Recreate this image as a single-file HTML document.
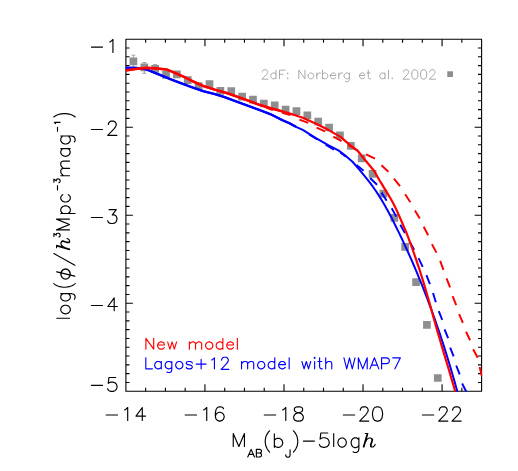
<!DOCTYPE html>
<html><head><meta charset="utf-8"><title>Luminosity function</title>
<style>html,body{margin:0;padding:0;background:#fff;font-family:"Liberation Sans",sans-serif}svg{display:block}</style>
</head><body>
<svg width="518" height="471" viewBox="0 0 518 471" role="img" aria-label="Luminosity function: log(phi / h^3 Mpc^-3 mag^-1) versus M_AB(b_J) - 5 log h. New model (red), Lagos+12 model with WMAP7 (blue), 2dF: Norberg et al. 2002 (grey squares)">
<title>b_J-band luminosity function: New model vs Lagos+12 model with WMAP7, data 2dF: Norberg et al. 2002</title>
<rect width="518" height="471" fill="#fff"/>
<defs><clipPath id="c"><rect x="125.9" y="39.2" width="356.3" height="352.35"/></clipPath></defs>
<path d="M133.4 55.2V67.6M131.4 55.2h4M131.4 67.6h4M144.27 62.5V73.3M142.27 62.5h4M142.27 73.3h4M155.14 64.6V72.6M153.14 64.6h4M153.14 72.6h4" fill="none" stroke="#8e8e8e" stroke-width="0.8"/>
<path d="M129.55 57.55h7.7v7.7h-7.7zM140.42 63.45h7.7v7.7h-7.7zM151.29 65.05h7.7v7.7h-7.7zM162.16 70.95h7.7v7.7h-7.7zM173.03 70.45h7.7v7.7h-7.7zM183.91 76.25h7.7v7.7h-7.7zM194.78 82.15h7.7v7.7h-7.7zM205.65 80.25h7.7v7.7h-7.7zM216.52 87.05h7.7v7.7h-7.7zM227.39 87.35h7.7v7.7h-7.7zM238.26 92.85h7.7v7.7h-7.7zM249.13 95.75h7.7v7.7h-7.7zM260 99.65h7.7v7.7h-7.7zM270.87 101.55h7.7v7.7h-7.7zM281.74 105.85h7.7v7.7h-7.7zM292.62 107.35h7.7v7.7h-7.7zM303.49 111.55h7.7v7.7h-7.7zM314.36 117.85h7.7v7.7h-7.7zM325.23 123.65h7.7v7.7h-7.7zM336.1 131.55h7.7v7.7h-7.7zM346.97 141.95h7.7v7.7h-7.7zM357.84 154.45h7.7v7.7h-7.7zM368.71 169.95h7.7v7.7h-7.7zM379.58 189.75h7.7v7.7h-7.7zM390.45 214.05h7.7v7.7h-7.7zM401.33 243.05h7.7v7.7h-7.7zM412.2 278.25h7.7v7.7h-7.7zM423.07 321.05h7.7v7.7h-7.7zM433.94 374.15h7.7v7.7h-7.7z" fill="#8e8e8e"/>
<rect x="447.3" y="71.3" width="5.7" height="5.7" fill="#8e8e8e"/>
<path d="M145.66 391.25v-3.6M145.66 39.2v3.6M165.42 391.25v-3.6M165.42 39.2v3.6M185.18 391.25v-3.6M185.18 39.2v3.6M204.94 391.25v-7.0M204.94 39.2v7.0M224.71 391.25v-3.6M224.71 39.2v3.6M244.47 391.25v-3.6M244.47 39.2v3.6M264.23 391.25v-3.6M264.23 39.2v3.6M283.99 391.25v-7.0M283.99 39.2v7.0M303.75 391.25v-3.6M303.75 39.2v3.6M323.51 391.25v-3.6M323.51 39.2v3.6M343.27 391.25v-3.6M343.27 39.2v3.6M363.03 391.25v-7.0M363.03 39.2v7.0M382.79 391.25v-3.6M382.79 39.2v3.6M402.56 391.25v-3.6M402.56 39.2v3.6M422.32 391.25v-3.6M422.32 39.2v3.6M442.08 391.25v-7.0M442.08 39.2v7.0M461.84 391.25v-3.6M461.84 39.2v3.6M125.9 48h3.6M481.6 48h-3.6M125.9 56.8h3.6M481.6 56.8h-3.6M125.9 65.6h3.6M481.6 65.6h-3.6M125.9 74.41h3.6M481.6 74.41h-3.6M125.9 83.21h3.6M481.6 83.21h-3.6M125.9 92.01h3.6M481.6 92.01h-3.6M125.9 100.81h3.6M481.6 100.81h-3.6M125.9 109.61h3.6M481.6 109.61h-3.6M125.9 118.41h3.6M481.6 118.41h-3.6M125.9 127.21h7.0M481.6 127.21h-7.0M125.9 136.01h3.6M481.6 136.01h-3.6M125.9 144.82h3.6M481.6 144.82h-3.6M125.9 153.62h3.6M481.6 153.62h-3.6M125.9 162.42h3.6M481.6 162.42h-3.6M125.9 171.22h3.6M481.6 171.22h-3.6M125.9 180.02h3.6M481.6 180.02h-3.6M125.9 188.82h3.6M481.6 188.82h-3.6M125.9 197.62h3.6M481.6 197.62h-3.6M125.9 206.42h3.6M481.6 206.42h-3.6M125.9 215.23h7.0M481.6 215.23h-7.0M125.9 224.03h3.6M481.6 224.03h-3.6M125.9 232.83h3.6M481.6 232.83h-3.6M125.9 241.63h3.6M481.6 241.63h-3.6M125.9 250.43h3.6M481.6 250.43h-3.6M125.9 259.23h3.6M481.6 259.23h-3.6M125.9 268.03h3.6M481.6 268.03h-3.6M125.9 276.83h3.6M481.6 276.83h-3.6M125.9 285.64h3.6M481.6 285.64h-3.6M125.9 294.44h3.6M481.6 294.44h-3.6M125.9 303.24h7.0M481.6 303.24h-7.0M125.9 312.04h3.6M481.6 312.04h-3.6M125.9 320.84h3.6M481.6 320.84h-3.6M125.9 329.64h3.6M481.6 329.64h-3.6M125.9 338.44h3.6M481.6 338.44h-3.6M125.9 347.24h3.6M481.6 347.24h-3.6M125.9 356.05h3.6M481.6 356.05h-3.6M125.9 364.85h3.6M481.6 364.85h-3.6M125.9 373.65h3.6M481.6 373.65h-3.6M125.9 382.45h3.6M481.6 382.45h-3.6" fill="none" stroke="#000" stroke-width="1.1"/>
<rect x="125.9" y="39.2" width="355.7" height="352.05" fill="none" stroke="#000" stroke-width="1.1" stroke-linejoin="round"/>
<g clip-path="url(#c)" fill="none" stroke-linejoin="round">
<path d="M124 67.85L125.7 67.85L135.6 67.85L141.4 68.4L147.2 69.6L153 72.1L158.75 74.45L170.3 79.1L180 82.8L191.6 87.1L203.2 91.2L214.75 94.05L224 96.95L236 101.35L247.6 105.6L259.2 109.9L270.75 114.3L282.3 120.1L290 123.5L296 126.8L302.75 129.85L315.5 137.85L328.2 145.1L338.4 150.4L345 155.3L352.75 162L359.1 169.4L365.5 177.05L366.09 177.77L369.5 182.11L372.7 186.45L375.73 190.79L378.59 195.12L381.3 199.46L383.88 203.8L386.35 208.14L388.72 212.47L391.01 216.81L393.23 221.15L395.41 225.48L397.55 229.82L399.65 234.16L401.72 238.5L403.76 242.83L405.76 247.17L407.73 251.51L409.67 255.85L411.58 260.18L413.46 264.52L415.31 268.86L417.13 273.2L418.92 277.53L420.69 281.87L422.43 286.21L424.14 290.55L425.82 294.88L427.48 299.22L429.12 303.56L430.72 307.9L432.31 312.23L433.86 316.57L435.4 320.91L436.91 325.25L438.39 329.58L439.86 333.92L441.3 338.26L442.72 342.6L444.12 346.93L445.49 351.27L446.85 355.61L448.18 359.95L449.5 364.28L450.79 368.62L452.07 372.96L453.33 377.3L454.57 381.63L455.79 385.97L456.99 390.31L457.78 393.2" stroke="#0000ff" stroke-width="2.0"/>
<path d="M124 67.85L125.7 67.85L135.6 67.85L141.4 68.4L147.2 69.6L153 72.1L158.75 74.45L170.3 79.1L180 82.8L191.6 87.1L203.2 91.2L214.75 94.05L224 96.95L236 101.35L247.6 105.6L259.2 109.9L270.75 114.3L282.3 120.1L290 123.5L296 126.8" stroke="#0000ff" stroke-width="2.35"/>
<path d="M309.1 134.4L317.4 139.5M325.7 144.6L333.95 149.6M340.5 152.7L346 156.6M356.55 164.95L363.55 170.65M370.1 177.97L377.08 184.73M381.51 192.63L386.67 200.67M391.7 208.17L396.29 216.63M400.26 224.71L404.9 233.09M409.59 241.44L414.19 249.86M418.52 258.19L422.72 266.81M426.42 275.11L429.96 284.04M433.03 293.01L435.84 302.19M438.75 311.05L442.24 319.9M444.56 329.37L448.13 338.13M450.16 347.54L453.64 356.36M456.18 365.49L459.69 374.36M462.14 383.46L466.69 392.54" stroke="#0000ff" stroke-width="1.95"/>
<path d="M124 70.8L125.7 70.5L135.6 69L147.2 67.85L158.75 68.65L166.9 69.6L172.65 71.9L178.4 74.45L184 76.8L191.6 80.75L203.2 85.95L214.75 89.65L226.3 92.9L237 96.6L247.6 100.4L259.2 104.8L270.75 108.3L282.3 111.4L290 113.65L296 115.5L302.75 117.75L315.5 123.5L328.2 129.85L340.5 136.9L348.9 144.2L357.2 150.3L365.5 160.5L374.4 171.3L374.8 172.04L377.3 176.49L379.92 180.95L382.61 185.4L385.35 189.85L388.08 194.31L390.73 198.76L393.2 203.21L395.45 207.66L397.53 212.12L399.49 216.57L401.4 221.02L403.32 225.48L405.23 229.93L407.06 234.38L408.77 238.83L410.39 243.29L411.98 247.74L413.56 252.19L415.12 256.65L416.65 261.1L418.15 265.55L419.62 270L421.04 274.46L422.43 278.91L423.79 283.36L425.12 287.82L426.42 292.27L427.7 296.72L428.97 301.17L430.22 305.63L431.47 310.08L432.71 314.53L433.96 318.99L435.21 323.44L436.47 327.89L437.74 332.34L439.04 336.8L440.35 341.25L441.67 345.7L442.99 350.16L444.33 354.61L445.67 359.06L447 363.51L448.34 367.97L449.66 372.42L450.98 376.87L452.29 381.33L453.58 385.78L454.85 390.23L455.69 393.2" stroke="#ff0000" stroke-width="2.2"/>
<path d="M124 70.8L125.7 70.5L135.6 69L147.2 67.85L158.75 68.65L166.9 69.6L172.65 71.9L178.4 74.45L184 76.8L191.6 80.75L203.2 85.95L214.75 89.65L226.3 92.9L237 96.6L247.6 100.4L259.2 104.8L270.75 108.3L282.3 111.4" stroke="#ff0000" stroke-width="2.5"/>
<path d="M266 107.5L273 110M282.3 112.7L290.4 115.1M299.4 119.6L308.3 122.8M316.6 127.7L325.05 131.3M333.3 136.6L341.6 141.05M348.5 145.2L357.2 150.4M366.1 154.4L375 158.6M381.4 165.3L388.4 171.7M393.91 178.74L400.03 186.21M405.13 194.31L410.4 202.24M414.93 210.43L419.77 218.62M423.71 226.76L428.13 235.19M431.94 244.21L436.44 252.59M440.15 260.89L443.46 269.91M446.55 278.46L450.06 287.34M452.62 296.19L456.21 305.01M459.13 314.03L462.87 322.77M466.02 331.71L470.09 340.29M473.13 349.29L477.74 357.81M479.6 367L481.9 376.3" stroke="#ff0000" stroke-width="1.95"/>
</g>
<path d="M106.2 414.95H117.55M124.55 409.96L125.81 409.34L127.7 407.49L127.7 420.45M142.29 420.45L142.29 416.13L142.29 407.49L135.99 416.13L142.29 416.13L145.44 416.13M185.24 414.95H196.59M203.59 409.96L204.85 409.34L206.74 407.49L206.74 420.45M223.52 408.86L222.84 407.5L220.8 406.82L219.44 406.82L217.4 407.5L216.04 409.54L215.36 412.94L215.36 416.34L216.04 419.06L217.4 420.42L219.44 421.1L220.12 421.1L222.16 420.42L223.52 419.06L224.2 417.02L224.2 416.34L223.52 414.3L222.16 412.94L220.12 412.26L219.44 412.26L217.4 412.94L216.04 414.3L215.36 416.34M264.29 414.95H275.64M282.64 409.96L283.9 409.34L285.79 407.49L285.79 420.45M293.73 416.34L293.73 418.38L294.41 419.74L295.09 420.42L297.13 421.1L299.85 421.1L301.89 420.42L302.57 419.74L303.25 418.38L303.25 416.34L302.57 414.98L301.21 413.62L299.17 412.94L296.45 412.26L295.09 411.58L294.41 410.22L294.41 408.86L295.09 407.5L297.13 406.82L299.85 406.82L301.89 407.5L302.57 408.86L302.57 410.22L301.89 411.58L300.53 412.26L297.81 412.94L295.77 413.62L294.41 414.98L293.73 416.34M343.33 414.95H354.68M360.28 410.22L360.28 409.54L360.93 408.18L361.59 407.5L362.9 406.82L365.51 406.82L366.82 407.5L367.47 408.18L368.13 409.54L368.13 410.9L367.47 412.26L366.17 414.3L359.63 421.1L368.78 421.1M372.49 412.94L372.49 414.98L373.21 418.38L374.65 420.42L376.81 421.1L378.25 421.1L380.41 420.42L381.85 418.38L382.57 414.98L382.57 412.94L381.85 409.54L380.41 407.5L378.25 406.82L376.81 406.82L374.65 407.5L373.21 409.54L372.49 412.94M422.38 414.95H433.73M439.32 410.22L439.32 409.54L439.98 408.18L440.63 407.5L441.94 406.82L444.56 406.82L445.86 407.5L446.52 408.18L447.17 409.54L447.17 410.9L446.52 412.26L445.21 414.3L438.67 421.1L447.83 421.1M452.65 410.22L452.65 409.54L453.31 408.18L453.96 407.5L455.27 406.82L457.89 406.82L459.19 407.5L459.85 408.18L460.5 409.54L460.5 410.9L459.85 412.26L458.54 414.3L452 421.1L461.16 421.1M91.4 47.1H102.55M109.78 41.91L111.04 41.29L112.93 39.44L112.93 52.4M91.4 129.46H102.55M108.38 124.53L108.38 123.85L109.03 122.49L109.68 121.81L110.99 121.13L113.61 121.13L114.92 121.81L115.57 122.49L116.22 123.85L116.22 125.21L115.57 126.57L114.26 128.61L107.72 135.41L116.88 135.41M91.4 217.48H102.55M107.68 220.88L108.34 222.2L109 222.86L110.98 223.53L112.96 223.53L114.94 222.86L116.26 221.54L116.92 219.55L116.92 218.23L116.26 216.24L115.6 215.58L114.28 214.92L112.3 214.92L116.26 209.62L109 209.62M91.4 305.49H102.55M114.19 310.79L114.19 306.47L114.19 297.83L107.89 306.47L114.19 306.47L117.34 306.47M91.4 385.3H102.55M107.58 388.7L108.25 390.03L108.92 390.69L110.95 391.35L112.97 391.35L115 390.69L116.35 389.36L117.03 387.38L117.03 386.05L116.35 384.07L115 382.74L112.97 382.08L110.95 382.08L108.92 382.74L108.25 383.41L108.92 377.45L115.67 377.45" fill="none" stroke="#000" stroke-width="1.15" stroke-linecap="round" stroke-linejoin="round"/>
<path d="M233.25 446.4L233.25 433.48L238.85 446.4L244.45 433.48L244.45 446.4M247.75 456.95L251.11 449.39L254.47 456.95M249.01 454.43L253.21 454.43M256.35 452.99L256.35 456.95L259.63 456.95L260.73 456.59L261.1 456.23L261.46 455.51L261.46 454.43L261.1 453.71L260.73 453.35L259.63 452.99L256.35 452.99L256.35 449.39L259.63 449.39L260.73 449.75L261.1 450.11L261.46 450.83L261.46 451.55L261.1 452.27L260.73 452.63L259.63 452.99M269.59 430.77L268.35 432.1L267.11 434.1L265.87 436.76L265.25 440.08L265.25 442.75L265.87 446.07L267.11 448.73L268.35 450.72L269.59 452.05M274.35 433.86L274.35 440.26L274.35 445.38L274.35 447.3M274.35 440.26L275.74 438.98L277.13 438.34L279.22 438.34L280.61 438.98L282 440.26L282.69 442.18L282.69 443.46L282 445.38L280.61 446.66L279.22 447.3L277.13 447.3L275.74 446.66L274.35 445.38M285.75 454.75L285.75 455.46L286.18 456.54L286.61 456.89L287.47 457.25L288.33 457.25L289.19 456.89L289.62 456.54L290.05 455.46L290.05 449.75M293.4 430.77L294.64 432.1L295.88 434.1L297.12 436.76L297.74 440.08L297.74 442.75L297.12 446.07L295.88 448.73L294.64 450.72L293.4 452.05M303.4 441.05H314.4M319.4 444.58L320.1 445.94L320.8 446.62L322.9 447.3L325 447.3L327.1 446.62L328.5 445.26L329.2 443.22L329.2 441.86L328.5 439.82L327.1 438.46L325 437.78L322.9 437.78L320.8 438.46L320.1 439.14L320.8 433.02L327.8 433.02M333.7 433.48L333.7 446.5M337.9 441.87L338.54 439.93L339.83 438.64L341.12 437.99L343.06 437.99L344.35 438.64L345.64 439.93L346.28 441.87L346.28 443.17L345.64 445.11L344.35 446.4L343.06 447.05L341.12 447.05L339.83 446.4L338.54 445.11L337.9 443.17L337.9 441.87M353.08 451.8L354.38 452.5L356.31 452.5L357.6 451.8L358.25 451.1L358.89 449L358.89 445.5L358.89 439.9L358.89 437.8M358.89 439.9L357.6 438.5L356.31 437.8L354.38 437.8L353.08 438.5L351.79 439.9L351.15 442L351.15 443.4L351.79 445.5L353.08 446.9L354.38 447.6L356.31 447.6L357.6 446.9L358.89 445.5" fill="none" stroke="#000" stroke-width="1.15" stroke-linecap="round" stroke-linejoin="round"/>
<path d="M363.3 447L367.26 433.45L367.92 433.45L365.28 442.49L363.96 447M365.28 433.45L367.26 433.45M365.28 442.49L366.6 439.9L367.92 438.62L369.24 437.97L370.56 437.97L371.88 438.62L372.54 439.26L372.54 440.55L371.22 444.42L371.22 446.36L371.88 447L373.2 447L374.52 445.71L375.18 444.42M370.56 437.97L371.88 439.26L371.88 440.55L370.56 444.42L370.56 446.36L371.22 447L371.88 447" fill="none" stroke="#000" stroke-width="1.1" stroke-linecap="round" stroke-linejoin="round"/>
<path d="M145.9 349.15L145.9 338.33L153.71 349.15L153.71 338.33M164.3 347.6L163.19 348.63L162.07 349.15L160.4 349.15L159.28 348.63L158.17 347.6L157.61 346.06L157.61 345.03L158.17 343.48L159.28 342.45L160.4 341.94L162.07 341.94L163.19 342.45L163.74 342.97L164.3 344L164.3 345.03L157.61 345.03M167.65 341.94L169.88 349.15L172.11 341.94L174.34 349.15L176.57 341.94M189.39 341.94L189.39 344L189.39 349.15M189.39 344L191.07 342.45L192.18 341.94L193.85 341.94L194.97 342.45L195.53 344L195.53 349.15M195.53 344L197.2 342.45L198.31 341.94L199.99 341.94L201.1 342.45L201.66 344L201.66 349.15M205.56 345.03L206.12 343.48L207.24 342.45L208.35 341.94L210.02 341.94L211.14 342.45L212.25 343.48L212.81 345.03L212.81 346.06L212.25 347.6L211.14 348.63L210.02 349.15L208.35 349.15L207.24 348.63L206.12 347.6L205.56 346.06L205.56 345.03M222.85 338.33L222.85 343.48L222.85 347.6L222.85 349.15M222.85 343.48L221.73 342.45L220.62 341.94L218.95 341.94L217.83 342.45L216.72 343.48L216.16 345.03L216.16 346.06L216.72 347.6L217.83 348.63L218.95 349.15L220.62 349.15L221.73 348.63L222.85 347.6M233.44 347.6L232.33 348.63L231.21 349.15L229.54 349.15L228.42 348.63L227.31 347.6L226.75 346.06L226.75 345.03L227.31 343.48L228.42 342.45L229.54 341.94L231.21 341.94L232.33 342.45L232.89 342.97L233.44 344L233.44 345.03L226.75 345.03M237.35 338.33L237.35 349.15" fill="none" stroke="#ff0000" stroke-width="1.15" stroke-linecap="round" stroke-linejoin="round"/>
<path d="M145.8 357.83L145.8 368.85L152.44 368.85M161.3 361.5L161.3 363.08L161.3 367.28L161.3 368.85M161.3 363.08L160.19 362.03L159.08 361.5L157.42 361.5L156.32 362.03L155.21 363.08L154.66 364.65L154.66 365.7L155.21 367.28L156.32 368.33L157.42 368.85L159.08 368.85L160.19 368.33L161.3 367.28M166.83 372L167.94 372.53L169.6 372.53L170.71 372L171.26 371.48L171.81 369.9L171.81 367.28L171.81 363.08L171.81 361.5M171.81 363.08L170.71 362.03L169.6 361.5L167.94 361.5L166.83 362.03L165.73 363.08L165.17 364.65L165.17 365.7L165.73 367.28L166.83 368.33L167.94 368.85L169.6 368.85L170.71 368.33L171.81 367.28M175.69 364.65L176.24 363.08L177.35 362.03L178.46 361.5L180.12 361.5L181.22 362.03L182.33 363.08L182.88 364.65L182.88 365.7L182.33 367.28L181.22 368.33L180.12 368.85L178.46 368.85L177.35 368.33L176.24 367.28L175.69 365.7L175.69 364.65M186.21 367.28L186.76 368.33L188.42 368.85L190.08 368.85L191.74 368.33L192.29 367.28L192.29 366.75L191.74 365.7L190.63 365.18L187.87 364.65L186.76 364.12L186.21 363.08L186.76 362.03L188.42 361.5L190.08 361.5L191.74 362.03L192.29 363.08M196.17 364.12L201.15 364.12L206.13 364.12M201.15 359.4L201.15 364.12L201.15 368.85M211.67 359.93L212.77 359.4L214.43 357.83L214.43 368.85M221.63 360.16L221.63 359.58L222.18 358.43L222.74 357.85L223.84 357.27L226.06 357.27L227.16 357.85L227.72 358.43L228.27 359.58L228.27 360.74L227.72 361.89L226.61 363.63L221.08 369.4L228.82 369.4M241.56 361.5L241.56 363.6L241.56 368.85M241.56 363.6L243.22 362.03L244.32 361.5L245.98 361.5L247.09 362.03L247.64 363.6L247.64 368.85M247.64 363.6L249.3 362.03L250.41 361.5L252.07 361.5L253.18 362.03L253.73 363.6L253.73 368.85M257.61 364.65L258.16 363.08L259.27 362.03L260.37 361.5L262.03 361.5L263.14 362.03L264.25 363.08L264.8 364.65L264.8 365.7L264.25 367.28L263.14 368.33L262.03 368.85L260.37 368.85L259.27 368.33L258.16 367.28L257.61 365.7L257.61 364.65M274.77 357.83L274.77 363.08L274.77 367.28L274.77 368.85M274.77 363.08L273.66 362.03L272.55 361.5L270.89 361.5L269.78 362.03L268.68 363.08L268.12 364.65L268.12 365.7L268.68 367.28L269.78 368.33L270.89 368.85L272.55 368.85L273.66 368.33L274.77 367.28M285.28 367.28L284.18 368.33L283.07 368.85L281.41 368.85L280.3 368.33L279.19 367.28L278.64 365.7L278.64 364.65L279.19 363.08L280.3 362.03L281.41 361.5L283.07 361.5L284.18 362.03L284.73 362.55L285.28 363.6L285.28 364.65L278.64 364.65M289.16 357.83L289.16 368.85M301.89 361.5L304.1 368.85L306.31 361.5L308.53 368.85L310.74 361.5M314.62 361.5L314.62 368.85M314.06 357.83L314.62 357.3L315.17 357.83L314.62 358.35L314.06 357.83M317.94 361.5L319.6 361.5L321.81 361.5M319.6 357.83L319.6 361.5L319.6 366.75L320.15 368.33L321.26 368.85L322.37 368.85M325.69 357.83L325.69 363.6L325.69 368.85M325.69 363.6L327.35 362.03L328.45 361.5L330.12 361.5L331.22 362.03L331.78 363.6L331.78 368.85M343.95 357.83L346.72 368.85L349.49 357.83L352.26 368.85L355.02 357.83M358.34 368.85L358.34 357.83L362.77 368.85L367.2 357.83L367.2 368.85M369.97 368.85L374.4 357.83L378.82 368.85M371.63 365.18L377.16 365.18M381.59 368.85L381.59 363.6L381.59 357.83L386.57 357.83L388.23 358.35L388.79 358.88L389.34 359.93L389.34 361.5L388.79 362.55L388.23 363.08L386.57 363.6L381.59 363.6M392.66 357.83L400.41 357.83L394.88 368.85" fill="none" stroke="#0000ff" stroke-width="1.15" stroke-linecap="round" stroke-linejoin="round"/>
<path d="M262.34 71.96L262.34 71.51L262.78 70.61L263.22 70.16L264.1 69.71L265.86 69.71L266.73 70.16L267.17 70.61L267.61 71.51L267.61 72.42L267.17 73.32L266.3 74.67L261.9 79.18L268.05 79.18M275.96 70.14L275.96 74.24L275.96 77.52L275.96 78.75M275.96 74.24L275.08 73.42L274.21 73.01L272.89 73.01L272.01 73.42L271.13 74.24L270.69 75.47L270.69 76.29L271.13 77.52L272.01 78.34L272.89 78.75L274.21 78.75L275.08 78.34L275.96 77.52M279.48 78.75L279.48 74.24L279.48 70.14L285.19 70.14M279.48 74.24L283 74.24M287.39 73.42L287.83 73.01L288.27 73.42L287.83 73.83L287.39 73.42M287.39 78.34L287.83 77.93L288.27 78.34L287.83 78.75L287.39 78.34M298.82 78.75L298.82 70.14L304.97 78.75L304.97 70.14M308.05 75.47L308.49 74.24L309.37 73.42L310.25 73.01L311.56 73.01L312.44 73.42L313.32 74.24L313.76 75.47L313.76 76.29L313.32 77.52L312.44 78.34L311.56 78.75L310.25 78.75L309.37 78.34L308.49 77.52L308.05 76.29L308.05 75.47M316.84 73.01L316.84 75.47L316.84 78.75M316.84 75.47L317.28 74.24L318.16 73.42L319.03 73.01L320.35 73.01M322.55 70.14L322.55 74.24L322.55 77.52L322.55 78.75M322.55 74.24L323.43 73.42L324.31 73.01L325.63 73.01L326.51 73.42L327.39 74.24L327.82 75.47L327.82 76.29L327.39 77.52L326.51 78.34L325.63 78.75L324.31 78.75L323.43 78.34L322.55 77.52M335.74 77.52L334.86 78.34L333.98 78.75L332.66 78.75L331.78 78.34L330.9 77.52L330.46 76.29L330.46 75.47L330.9 74.24L331.78 73.42L332.66 73.01L333.98 73.01L334.86 73.42L335.3 73.83L335.74 74.65L335.74 75.47L330.46 75.47M338.81 73.01L338.81 75.47L338.81 78.75M338.81 75.47L339.25 74.24L340.13 73.42L341.01 73.01L342.33 73.01M345.4 81.21L346.28 81.62L347.6 81.62L348.48 81.21L348.92 80.8L349.36 79.57L349.36 77.52L349.36 74.24L349.36 73.01M349.36 74.24L348.48 73.42L347.6 73.01L346.28 73.01L345.4 73.42L344.53 74.24L344.09 75.47L344.09 76.29L344.53 77.52L345.4 78.34L346.28 78.75L347.6 78.75L348.48 78.34L349.36 77.52M364.74 77.52L363.86 78.34L362.99 78.75L361.67 78.75L360.79 78.34L359.91 77.52L359.47 76.29L359.47 75.47L359.91 74.24L360.79 73.42L361.67 73.01L362.99 73.01L363.86 73.42L364.3 73.83L364.74 74.65L364.74 75.47L359.47 75.47M366.94 73.01L368.26 73.01L370.02 73.01M368.26 70.14L368.26 73.01L368.26 77.11L368.7 78.34L369.58 78.75L370.46 78.75M384.96 73.01L384.96 74.24L384.96 77.52L384.96 78.75M384.96 74.24L384.08 73.42L383.2 73.01L381.88 73.01L381 73.42L380.13 74.24L379.69 75.47L379.69 76.29L380.13 77.52L381 78.34L381.88 78.75L383.2 78.75L384.08 78.34L384.96 77.52M388.48 70.14L388.48 78.75M391.99 78.34L392.43 77.93L392.87 78.34L392.43 78.75L391.99 78.34M403.42 71.96L403.42 71.51L403.86 70.61L404.3 70.16L405.18 69.71L406.94 69.71L407.81 70.16L408.25 70.61L408.69 71.51L408.69 72.42L408.25 73.32L407.37 74.67L402.98 79.18L409.13 79.18M411.77 73.77L411.77 75.12L412.21 77.38L413.09 78.73L414.41 79.18L415.29 79.18L416.6 78.73L417.48 77.38L417.92 75.12L417.92 73.77L417.48 71.51L416.6 70.16L415.29 69.71L414.41 69.71L413.09 70.16L412.21 71.51L411.77 73.77M420.56 73.77L420.56 75.12L421 77.38L421.88 78.73L423.2 79.18L424.08 79.18L425.39 78.73L426.27 77.38L426.71 75.12L426.71 73.77L426.27 71.51L425.39 70.16L424.08 69.71L423.2 69.71L421.88 70.16L421 71.51L420.56 73.77M429.79 71.96L429.79 71.51L430.23 70.61L430.67 70.16L431.55 69.71L433.3 69.71L434.18 70.16L434.62 70.61L435.06 71.51L435.06 72.42L434.62 73.32L433.74 74.67L429.35 79.18L435.5 79.18" fill="none" stroke="#8e8e8e" stroke-width="0.76" stroke-linecap="round" stroke-linejoin="round"/>
<path d="M56.8 318.2L69.5 318.2M64.85 313.8L62.83 313.14L61.48 311.82L60.8 310.5L60.8 308.52L61.48 307.2L62.83 305.88L64.85 305.22L66.2 305.22L68.22 305.88L69.58 307.2L70.25 308.52L70.25 310.5L69.58 311.82L68.22 313.14L66.2 313.8L64.85 313.8M74.38 299.17L75.06 297.95L75.06 296.12L74.38 294.9L73.7 294.29L71.66 293.68L68.26 293.68L62.82 293.68L60.78 293.68M62.82 293.68L61.46 294.9L60.78 296.12L60.78 297.95L61.46 299.17L62.82 300.39L64.86 301L66.22 301L68.26 300.39L69.62 299.17L70.3 297.95L70.3 296.12L69.62 294.9L68.26 293.68M53.8 283.63L55.14 284.65L57.15 285.67L59.83 286.69L63.18 287.2L65.86 287.2L69.21 286.69L71.89 285.67L73.9 284.65L75.24 283.63M74.9 265.2L53.9 253.6M58.92 237L59.51 236.73L59.8 236.46L60.1 235.65L60.1 234.84L59.8 234.03L59.22 233.49L58.33 233.22L57.74 233.22L56.86 233.49L56.56 233.76L56.27 234.3L56.27 235.11L53.91 233.49L53.91 236.46M69.5 229.9L56.48 229.9L69.5 224.5L56.48 219.1L69.5 219.1M60.78 213.5L62.82 213.5L68.26 213.5L75.06 213.5M62.82 213.5L61.46 212.22L60.78 210.94L60.78 209.02L61.46 207.74L62.82 206.46L64.86 205.82L66.22 205.82L68.26 206.46L69.62 207.74L70.3 209.02L70.3 210.94L69.62 212.22L68.26 213.5M62.83 194.56L61.48 195.8L60.8 197.04L60.8 198.9L61.48 200.14L62.83 201.38L64.85 202L66.2 202L68.22 201.38L69.58 200.14L70.25 198.9L70.25 197.04L69.58 195.8L68.22 194.56M57.5 190V185.6M58.92 182.7L59.51 182.43L59.8 182.16L60.1 181.35L60.1 180.54L59.8 179.73L59.22 179.19L58.33 178.92L57.74 178.92L56.86 179.19L56.56 179.46L56.27 180L56.27 180.81L53.91 179.19L53.91 182.16M60.8 175.7L63.3 175.7L69.55 175.7M63.3 175.7L61.42 173.7L60.8 172.37L60.8 170.38L61.42 169.05L63.3 168.38L69.55 168.38M63.3 168.38L61.42 166.39L60.8 165.06L60.8 163.06L61.42 161.73L63.3 161.07L69.55 161.07M60.79 148.62L62.78 148.62L68.1 148.62L70.1 148.62M62.78 148.62L61.45 149.9L60.79 151.18L60.79 153.1L61.45 154.38L62.78 155.66L64.78 156.3L66.11 156.3L68.1 155.66L69.43 154.38L70.1 153.1L70.1 151.18L69.43 149.9L68.1 148.62M74.38 141.99L75.06 140.65L75.06 138.64L74.38 137.3L73.7 136.63L71.66 135.96L68.26 135.96L62.82 135.96L60.78 135.96M62.82 135.96L61.46 137.3L60.78 138.64L60.78 140.65L61.46 141.99L62.82 143.33L64.86 144L66.22 144L68.26 143.33L69.62 141.99L70.3 140.65L70.3 138.64L69.62 137.3L68.26 135.96M57.5 131.2V127.2M55.51 123.6L55.24 123.11L54.43 122.38L60.1 122.38M53.8 117L55.14 116.02L57.15 115.04L59.83 114.06L63.18 113.57L65.86 113.57L69.21 114.06L71.89 115.04L73.9 116.02L75.24 117" fill="none" stroke="#000" stroke-width="1.15" stroke-linecap="round" stroke-linejoin="round"/>
<path d="M69.6 249.6L56.58 245.88L56.58 245.26L65.26 247.74L69.6 248.98M56.58 247.74L56.58 245.88M65.26 247.74L62.78 246.5L61.54 245.26L60.92 244.02L60.92 242.78L61.54 241.54L62.16 240.92L63.4 240.92L67.12 242.16L68.98 242.16L69.6 241.54L69.6 240.3L68.36 239.06L67.12 238.44M60.92 242.78L62.16 241.54L63.4 241.54L67.12 242.78L68.98 242.78L69.6 242.16L69.6 241.54" fill="none" stroke="#000" stroke-width="1.1" stroke-linecap="round" stroke-linejoin="round"/>
<ellipse cx="65.55" cy="274.05" rx="4.65" ry="5.05" fill="none" stroke="#000" stroke-width="1.35"/>
<path d="M56.9 271.8L74.7 276.1" fill="none" stroke="#000" stroke-width="1.35" stroke-linecap="round"/>
</svg>
</body></html>
